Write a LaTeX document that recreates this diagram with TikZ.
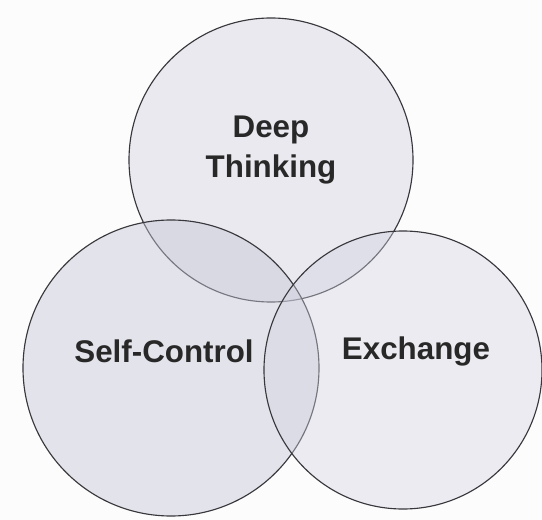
\documentclass[tikz,border=0pt]{standalone}
\usepackage{fontspec}
\setmainfont{Liberation Sans}
\usepackage{tikz}
\usetikzlibrary{positioning}

\tikzset{
  venn/.style={draw={rgb, 255:red, 55; green, 55; blue, 60}, line width=0.85pt, fill={rgb, 255:red, 210; green, 210; blue, 225}, fill opacity=0.45},
  lbl/.style={text={rgb, 255:red, 40; green, 40; blue, 40}, font=\bfseries\fontsize{23.5}{30}\selectfont, align=center}
}

\begin{document}
\begin{tikzpicture}[x=0.75pt,y=0.75pt,yscale=-1,xscale=1]
\useasboundingbox [fill={rgb, 255:red, 252; green, 252; blue, 252}] (0,0) rectangle (542,520);

%Shape: Circle [id:thinking]
\draw [venn] (271,160) circle (142);
%Shape: Circle [id:selfcontrol]
\draw [venn, fill={rgb, 255:red, 198; green, 198; blue, 215}] (171,368) circle (148);
%Shape: Circle [id:exchange]
\draw [venn, fill opacity=0.4] (403,370) circle (139);

% Text Node
\node [lbl] (thinktxt) at (271,150) {Deep\\Thinking};
% Text Node
\node [lbl] (selftxt) at (164,351) {Self-Control};
% Text Node
\node [lbl] (exchtxt) at (416,351) {Exchange};

\end{tikzpicture}
\end{document}
